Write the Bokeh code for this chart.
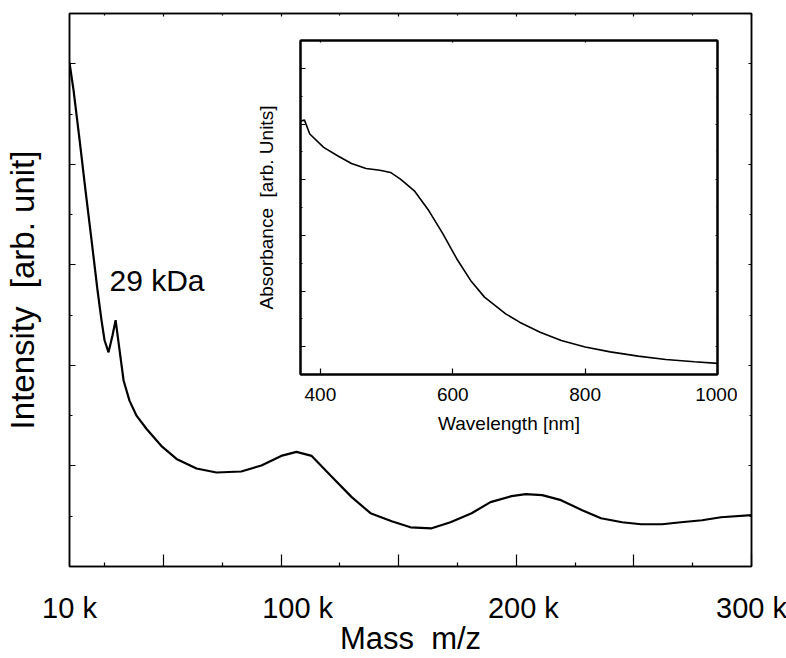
from bokeh.plotting import figure
from bokeh.models import LinearAxis, FixedTicker, Label, CustomJSTickFormatter
from bokeh.embed import file_html
from bokeh.resources import INLINE

# ---------------- data ----------------
mass_kda = [10, 11.7, 14.3, 16.8, 19.4, 21.9, 23.6, 24.9, 26.6, 28.3, 29.6, 31.3, 33, 35.5,
            38.5, 42.7, 49, 55.5, 64, 72.5, 83, 91.6, 100, 106.5, 113, 121, 130, 138, 147,
            155, 164, 172, 181, 189, 198, 204, 211, 219, 228, 236, 245, 253, 262, 270, 279,
            287, 300]
intensity = [5.01, 4.74, 4.24, 3.74, 3.24, 2.75, 2.45, 2.25, 2.13, 2.30, 2.45, 2.15, 1.85, 1.65,
             1.50, 1.37, 1.20, 1.07, 0.975, 0.935, 0.945, 1.005, 1.10, 1.14, 1.10, 0.905, 0.69,
             0.53, 0.45, 0.39, 0.38, 0.44, 0.53, 0.64, 0.70, 0.72, 0.71, 0.66, 0.56, 0.48, 0.44,
             0.42, 0.42, 0.44, 0.46, 0.49, 0.51]

wavelength_nm = [370, 376, 384, 405, 426, 447, 469, 490, 506, 521, 542, 564, 585, 606, 627,
                 648, 680, 701, 732, 764, 800, 838, 880, 922, 965, 1000]
absorbance = [5.055, 5.07, 4.82, 4.58, 4.43, 4.29, 4.20, 4.17, 4.13, 4.01, 3.80, 3.44, 3.03,
              2.58, 2.19, 1.89, 1.59, 1.44, 1.26, 1.11, 0.995, 0.906, 0.83, 0.77, 0.73, 0.70]

mass_tick_marks = [50, 100, 150, 200, 250, 300]
mass_minor_marks = [25, 75, 125, 175, 225, 275]
mass_label_pos = [10, 107, 203, 300]
mass_label_text = ["10 k", "100 k", "200 k", "300 k"]
int_ticks = [1, 2, 3, 4, 5]
int_minor = [0.5, 1.5, 2.5, 3.5, 4.5, 5.5]
wl_ticks = [400, 600, 800, 1000]
abs_ticks = [1, 2, 3, 4, 5, 6]
abs_minor = [0.5, 1.5, 2.5, 3.5, 4.5, 5.5, 6.5]
peak_text = "29 kDa"

FONT = "Liberation Sans"
NB = "\u00a0"


def tick_axis(ticks, minor, tin, tmin, lw=1.5):
    ax = LinearAxis(ticker=FixedTicker(ticks=ticks, minor_ticks=minor),
                    formatter=CustomJSTickFormatter(code="return ''"))
    ax.major_tick_in = tin
    ax.major_tick_out = 0
    ax.minor_tick_in = tmin
    ax.minor_tick_out = 0
    ax.major_tick_line_width = 1.2
    ax.minor_tick_line_width = 1.2
    ax.axis_line_width = lw
    ax.major_label_standoff = 0
    ax.major_label_text_font_size = "1px"
    return ax


def style_label(ax, size, standoff):
    ax.axis_label_text_font = FONT
    ax.axis_label_text_font_size = size
    ax.axis_label_text_font_style = "normal"
    ax.axis_label_text_color = "black"
    ax.axis_label_standoff = standoff


# ---------------- main figure ----------------
p = figure(frame_width=682, frame_height=553, x_range=(10, 300), y_range=(0, 5.5),
           output_backend="svg", toolbar_location=None,
           x_axis_location=None, y_axis_location=None,
           min_border_left=68, min_border_right=36, min_border_top=13, min_border_bottom=92)
p.grid.visible = False
p.outline_line_color = "black"
p.outline_line_width = 1.5

p.add_layout(tick_axis(mass_tick_marks, mass_minor_marks, 12, 4), "below")
lab = LinearAxis(ticker=FixedTicker(ticks=mass_label_pos, minor_ticks=[]),
                 major_label_overrides={v: t for v, t in zip(mass_label_pos, mass_label_text)})
lab.axis_line_color = None
lab.major_tick_line_color = None
lab.minor_tick_line_color = None
lab.major_tick_in = 0
lab.major_tick_out = 0
lab.major_label_standoff = 25
lab.major_label_text_font = FONT
lab.major_label_text_font_size = "29px"
lab.major_label_text_color = "black"
lab.axis_label = "Mass" + NB + " m/z"
style_label(lab, "31px", -6)
p.add_layout(lab, "below")

ly = tick_axis(int_ticks, int_minor, 6, 3)
ly.axis_label = "Intensity" + NB + " [arb. unit]"
style_label(ly, "33px", 29)
p.add_layout(ly, "left")

p.add_layout(tick_axis(mass_tick_marks, mass_minor_marks, 3, 2), "above")
p.add_layout(tick_axis(int_ticks, int_minor, 3, 2), "right")

p.line(mass_kda, intensity, line_color="black", line_width=2.2)
p.add_layout(Label(x=27, y=2.68, text=peak_text, text_font=FONT, text_font_size="30px",
                   text_color="black"))

# ---------------- inset ----------------
q = figure(frame_width=417, frame_height=334, x_range=(370, 1000), y_range=(0.5, 6.5),
           output_backend="svg", toolbar_location=None,
           x_axis_location=None, y_axis_location=None,
           min_border_left=50, min_border_right=20, min_border_top=5, min_border_bottom=61)
q.grid.visible = False
q.outline_line_color = "black"
q.outline_line_width = 2
q.background_fill_color = "white"
q.border_fill_alpha = 0

qb = LinearAxis(ticker=FixedTicker(ticks=wl_ticks, minor_ticks=[]))
qb.major_tick_in = 6
qb.major_tick_out = 0
qb.axis_line_width = 2
qb.major_tick_line_width = 1.2
qb.major_label_standoff = 13
qb.major_label_text_font = FONT
qb.major_label_text_font_size = "19px"
qb.major_label_text_color = "black"
qb.axis_label = "Wavelength [nm]"
style_label(qb, "19px", 9)
q.add_layout(qb, "below")

qy = tick_axis(abs_ticks, abs_minor, 5, 2, lw=2)
qy.axis_label = "Absorbance" + NB + " [arb. Units]"
style_label(qy, "19px", 24)
q.add_layout(qy, "left")
q.add_layout(tick_axis(wl_ticks, [], 2, 0, lw=2), "above")
q.add_layout(tick_axis(abs_ticks, abs_minor, 2, 1, lw=2), "right")

q.line(wavelength_nm, absorbance, line_color="black", line_width=1.6)

q.styles = {"position": "absolute", "left": "250px", "top": "35px", "z-index": "5"}

open("out.html", "w").write(file_html([p, q], INLINE))
